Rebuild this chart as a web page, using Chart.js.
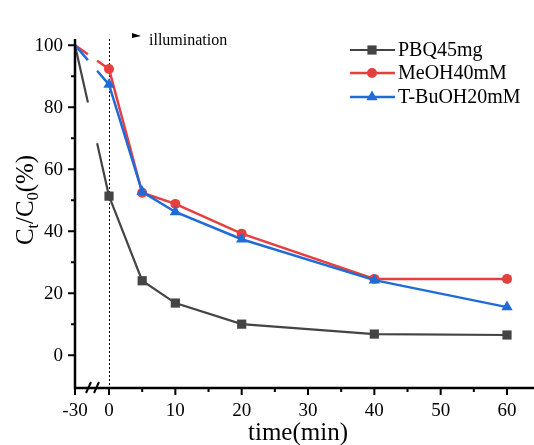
<!DOCTYPE html>
<html>
<head>
<meta charset="utf-8">
<script src="https://cdn.jsdelivr.net/npm/chart.js@4.4.1/dist/chart.umd.min.js"></script>
<style>
  body { margin: 0; background: #fff; }
  canvas { display: block; }
</style>
</head>
<body>
<canvas id="chart" width="534" height="445"></canvas>
<script>
// sampling times (min), -30 = start of dark adsorption
const times = [-30, 0, 5, 10, 20, 40, 60];
const pbq = [100, 51.3, 24.0, 16.8, 10.0, 6.8, 6.5];
const meoh = [100, 92.3, 52.4, 48.8, 39.2, 24.6, 24.6];
const tbuoh = [100, 87.3, 52.7, 46.2, 37.4, 24.2, 15.5];
const seriesNames = ["PBQ45mg", "MeOH40mM", "T-BuOH20mM"];

const xMajorTicks = [-30, 0, 10, 20, 30, 40, 50, 60];
const xMinorTicks = [5, 15, 25, 35, 45, 55];
const yMajorTicks = [0, 20, 40, 60, 80, 100];
const yMinorTicks = [10, 30, 50, 70, 90];

// dark period is squeezed into a short piece of the axis (broken axis)
const DARK_SPAN = 5.13;
function axisX(t) { return t < 0 ? t / 30 * DARK_SPAN : t; }

const SERIF = '"Liberation Serif", "Times New Roman", serif';

function points(vals) {
  return times.map((t, i) => ({ x: axisX(t), y: vals[i] }));
}

// first segment (dark period) is drawn with a gap where the axis is broken
function breakDash(ctx) {
  if (ctx.p0DataIndex !== 0) return [];
  const dx = ctx.p1.x - ctx.p0.x, dy = ctx.p1.y - ctx.p0.y;
  const len = Math.hypot(dx, dy);
  return [len * 0.38, len * 0.27, len];
}

function makeSet(label, vals, color, style, radius, order, width) {
  return {
    label: label,
    data: points(vals),
    borderColor: color,
    backgroundColor: color,
    borderWidth: width,
    pointStyle: style,
    markerSize: radius,
    // no marker on the starting (t = -30) point
    pointRadius: ctx => ctx.dataIndex === 0 ? 0 : radius,
    pointBorderWidth: 0,
    pointBackgroundColor: color,
    tension: 0,
    clip: false,
    order: order,
    segment: { borderDash: breakDash }
  };
}

const axesPlugin = {
  id: "brokenAxes",
  beforeDatasetsDraw(chart) {
    const c = chart.ctx, a = chart.chartArea, x = chart.scales.x;
    // illumination marker line at t = 0
    c.save();
    c.strokeStyle = "#000";
    c.lineWidth = 1;
    c.setLineDash([2, 2]);
    const x0 = Math.round(x.getPixelForValue(0)) + 0.5;
    c.beginPath();
    c.moveTo(x0, a.top);
    c.lineTo(x0, a.bottom);
    c.stroke();
    c.restore();
  },
  afterDraw(chart) {
    const c = chart.ctx, a = chart.chartArea;
    const xs = chart.scales.x, ys = chart.scales.y;
    c.save();
    c.strokeStyle = "#000";
    c.fillStyle = "#000";
    c.lineWidth = 2.5;
    c.beginPath();
    c.moveTo(a.left, a.top);
    c.lineTo(a.left, a.bottom);
    c.lineTo(a.right, a.bottom);
    c.stroke();

    c.lineWidth = 2;
    c.beginPath();
    yMajorTicks.forEach(v => { const p = ys.getPixelForValue(v); c.moveTo(a.left, p); c.lineTo(a.left - 7, p); });
    yMinorTicks.forEach(v => { const p = ys.getPixelForValue(v); c.moveTo(a.left, p); c.lineTo(a.left - 4, p); });
    xMajorTicks.forEach(t => { const p = xs.getPixelForValue(axisX(t)); c.moveTo(p, a.bottom); c.lineTo(p, a.bottom + 7); });
    xMinorTicks.forEach(t => { const p = xs.getPixelForValue(axisX(t)); c.moveTo(p, a.bottom); c.lineTo(p, a.bottom + 4); });
    c.stroke();

    // break marks
    c.lineWidth = 2;
    c.beginPath();
    [86, 94].forEach(bx => { c.moveTo(bx, a.bottom + 5); c.lineTo(bx + 5, a.bottom - 6); });
    c.stroke();

    c.font = "19px " + SERIF;
    c.textAlign = "right";
    c.textBaseline = "middle";
    yMajorTicks.forEach(v => c.fillText(String(v), 63, ys.getPixelForValue(v) + 1));
    c.textAlign = "center";
    xMajorTicks.forEach(t => c.fillText(String(t), xs.getPixelForValue(axisX(t)), a.bottom + 23));

    // axis titles
    c.textBaseline = "alphabetic";
    c.font = "25px " + SERIF;
    c.fillText("time(min)", 298, 440);

    c.save();
    c.translate(33, 200);
    c.rotate(-Math.PI / 2);
    const big = "25px " + SERIF, small = "16px " + SERIF;
    const parts = [["C", big, 0], ["t", small, 5], ["/C", big, 0], ["0", small, 5], ["(%)", big, 0]];
    let total = 0;
    parts.forEach(p => { c.font = p[1]; total += c.measureText(p[0]).width; });
    let u = -total / 2;
    c.textAlign = "left";
    parts.forEach(p => { c.font = p[1]; c.fillText(p[0], u, p[2]); u += c.measureText(p[0]).width; });
    c.restore();

    // illumination note
    c.beginPath();
    c.moveTo(132, 33);
    c.lineTo(141, 36);
    c.lineTo(132, 38);
    c.closePath();
    c.fill();
    c.font = "16px " + SERIF;
    c.textAlign = "left";
    c.textBaseline = "middle";
    c.fillText("illumination", 149, 41);

    // legend: line + marker + name
    const rows = [50, 73, 97];
    seriesNames.forEach((name, i) => {
      const ds = chart.data.datasets.find(d => d.label === name);
      const y = rows[i];
      c.strokeStyle = ds.borderColor;
      c.fillStyle = ds.borderColor;
      c.lineWidth = ds.borderWidth;
      c.beginPath();
      c.moveTo(350, y);
      c.lineTo(395, y);
      c.stroke();
      Chart.helpers.drawPoint(c, { pointStyle: ds.pointStyle, radius: ds.markerSize, rotation: 0, borderWidth: 0 }, 372, y);
      c.fillStyle = "#000";
      c.font = "20px " + SERIF;
      c.fillText(name, 398, y + 1);
    });
    c.restore();
  }
};

const chart = new Chart(document.getElementById("chart"), {
  type: "line",
  data: {
    datasets: [
      makeSet(seriesNames[0], pbq, "#444444", "rect", 6.5, 2, 2.2),
      makeSet(seriesNames[1], meoh, "#e5403f", "circle", 5, 1, 2.5),
      makeSet(seriesNames[2], tbuoh, "#1f6bd8", "triangle", 6.5, 0, 2.5)
    ]
  },
  options: {
    responsive: false,
    animation: false,
    layout: { autoPadding: false, padding: { left: 75, top: 39, right: 0, bottom: 57 } },
    plugins: { legend: { display: false }, tooltip: { enabled: false } },
    scales: {
      x: { type: "linear", display: false, min: axisX(-30), max: 64.07 },
      y: { type: "linear", display: false, min: -10.6, max: 102 }
    }
  },
  plugins: [axesPlugin]
});
</script>
</body>
</html>
